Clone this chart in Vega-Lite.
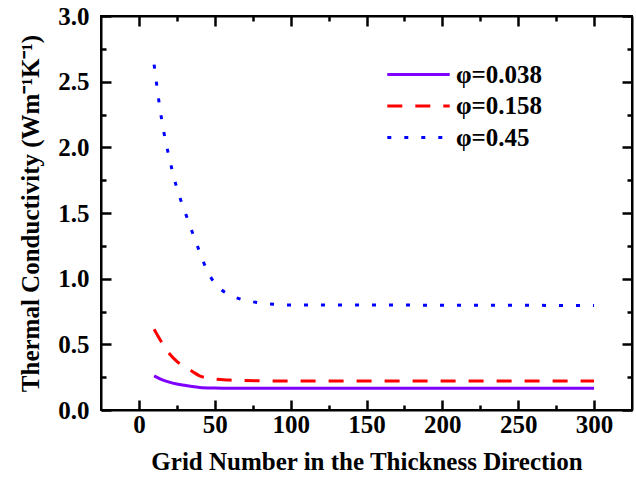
{
  "$schema": "https://vega.github.io/schema/vega-lite/v6.json",
  "width": 531,
  "height": 394,
  "autosize": "none",
  "padding": {"left": 101, "top": 16, "right": 4, "bottom": 71},
  "background": "white",
  "config": {
    "view": {"stroke": "#000000", "strokeWidth": 2},
    "font": "Liberation Serif"
  },
  "data": {
    "values": [
      {"n": 10, "k": 0.26, "phi": "φ=0.038"},
      {"n": 15, "k": 0.232, "phi": "φ=0.038"},
      {"n": 20, "k": 0.212, "phi": "φ=0.038"},
      {"n": 25, "k": 0.198, "phi": "φ=0.038"},
      {"n": 30, "k": 0.188, "phi": "φ=0.038"},
      {"n": 35, "k": 0.179, "phi": "φ=0.038"},
      {"n": 40, "k": 0.172, "phi": "φ=0.038"},
      {"n": 50, "k": 0.167, "phi": "φ=0.038"},
      {"n": 60, "k": 0.165, "phi": "φ=0.038"},
      {"n": 100, "k": 0.165, "phi": "φ=0.038"},
      {"n": 150, "k": 0.165, "phi": "φ=0.038"},
      {"n": 200, "k": 0.165, "phi": "φ=0.038"},
      {"n": 250, "k": 0.165, "phi": "φ=0.038"},
      {"n": 300, "k": 0.165, "phi": "φ=0.038"},
      {"n": 10, "k": 0.615, "phi": "φ=0.158"},
      {"n": 15, "k": 0.515, "phi": "φ=0.158"},
      {"n": 20, "k": 0.43, "phi": "φ=0.158"},
      {"n": 25, "k": 0.37, "phi": "φ=0.158"},
      {"n": 30, "k": 0.33, "phi": "φ=0.158"},
      {"n": 35, "k": 0.295, "phi": "φ=0.158"},
      {"n": 40, "k": 0.26, "phi": "φ=0.158"},
      {"n": 45, "k": 0.243, "phi": "φ=0.158"},
      {"n": 50, "k": 0.235, "phi": "φ=0.158"},
      {"n": 60, "k": 0.228, "phi": "φ=0.158"},
      {"n": 70, "k": 0.224, "phi": "φ=0.158"},
      {"n": 80, "k": 0.222, "phi": "φ=0.158"},
      {"n": 100, "k": 0.22, "phi": "φ=0.158"},
      {"n": 150, "k": 0.22, "phi": "φ=0.158"},
      {"n": 200, "k": 0.22, "phi": "φ=0.158"},
      {"n": 250, "k": 0.22, "phi": "φ=0.158"},
      {"n": 300, "k": 0.22, "phi": "φ=0.158"},
      {"n": 10, "k": 2.63, "phi": "φ=0.45"},
      {"n": 15, "k": 2.21, "phi": "φ=0.45"},
      {"n": 20, "k": 1.92, "phi": "φ=0.45"},
      {"n": 25, "k": 1.69, "phi": "φ=0.45"},
      {"n": 30, "k": 1.52, "phi": "φ=0.45"},
      {"n": 35, "k": 1.36, "phi": "φ=0.45"},
      {"n": 40, "k": 1.205, "phi": "φ=0.45"},
      {"n": 45, "k": 1.06, "phi": "φ=0.45"},
      {"n": 50, "k": 0.966, "phi": "φ=0.45"},
      {"n": 55, "k": 0.91, "phi": "φ=0.45"},
      {"n": 60, "k": 0.878, "phi": "φ=0.45"},
      {"n": 65, "k": 0.852, "phi": "φ=0.45"},
      {"n": 70, "k": 0.836, "phi": "φ=0.45"},
      {"n": 80, "k": 0.815, "phi": "φ=0.45"},
      {"n": 90, "k": 0.805, "phi": "φ=0.45"},
      {"n": 100, "k": 0.8, "phi": "φ=0.45"},
      {"n": 150, "k": 0.8, "phi": "φ=0.45"},
      {"n": 200, "k": 0.798, "phi": "φ=0.45"},
      {"n": 250, "k": 0.797, "phi": "φ=0.45"},
      {"n": 300, "k": 0.796, "phi": "φ=0.45"}
    ]
  },
  "layer": [
    {
      "transform": [{"filter": "datum.phi == 'φ=0.038'"}],
      "mark": {"type": "line", "strokeWidth": 3, "interpolate": "monotone"},
      "encoding": {
        "x": {
          "field": "n", "type": "quantitative",
          "scale": {"domain": [-25, 325], "nice": false, "zero": false},
          "axis": {
            "orient": "bottom",
            "zindex": 1,
            "gridOpacity": 0,
            "title": "Grid Number in the Thickness Direction",
            "titleFont": "Liberation Serif", "titleFontWeight": "bold", "titleFontSize": 25, "titleColor": "#000000",
            "labelFont": "Liberation Serif", "labelFontWeight": "bold", "labelFontSize": 25, "labelColor": "#000000",
            "domainColor": "#000000", "domainWidth": 2,
            "tickColor": "#000000", "tickWidth": 2.5,
            "values": [0, 25, 50, 75, 100, 125, 150, 175, 200, 225, 250, 275, 300],
            "labelExpr": "datum.value % 50 == 0 ? datum.label : ''",
            "tickSize": {"condition": {"test": "datum.value % 50 != 0", "value": -5}, "value": -10},
            "labelPadding": 12,
            "titlePadding": 12
          }
        },
        "y": {
          "field": "k", "type": "quantitative",
          "scale": {"domain": [0, 3], "nice": false},
          "axis": {
            "orient": "left",
            "zindex": 1,
            "gridOpacity": 0,
            "title": "Thermal Conductivity (Wm⁻¹K⁻¹)",
            "titleFont": "Liberation Serif", "titleFontWeight": "bold", "titleFontSize": 25, "titleColor": "#000000",
            "labelFont": "Liberation Serif", "labelFontWeight": "bold", "labelFontSize": 25, "labelColor": "#000000",
            "domainColor": "#000000", "domainWidth": 2,
            "tickColor": "#000000", "tickWidth": 2.5,
            "values": [0, 0.25, 0.5, 0.75, 1, 1.25, 1.5, 1.75, 2, 2.25, 2.5, 2.75, 3],
            "labelExpr": "abs(datum.value*2 - round(datum.value*2)) < 0.01 ? format(datum.value, '.1f') : ''",
            "tickSize": {"condition": {"test": "abs(datum.value*2 - round(datum.value*2)) > 0.01", "value": -5}, "value": -10},
            "labelPadding": 22,
            "titlePadding": 14
          }
        },
        "color": {
          "field": "phi", "type": "nominal",
          "scale": {"domain": ["φ=0.038", "φ=0.158", "φ=0.45"], "range": ["#8000ff", "#ff0000", "#0000ff"]},
          "legend": {
            "title": null, "orient": "none", "legendX": 305, "legendY": 46,
            "symbolType": "M-5.2,0H5.2", "symbolSize": 144, "symbolStrokeWidth": 3,
            "labelOffset": 25, "rowPadding": 5.5,
            "labelFont": "Liberation Serif", "labelFontWeight": "bold", "labelFontSize": 25, "labelColor": "#000000", "labelLimit": 300,
            "encode": {
              "symbols": {
                "update": {
                  "strokeDash": {"signal": "datum.value == 'φ=0.158' ? [15, 13] : datum.value == 'φ=0.45' ? [4, 13] : [1, 0]"}
                }
              }
            }
          }
        }
      }
    },
    {
      "transform": [{"filter": "datum.phi == 'φ=0.158'"}],
      "mark": {"type": "line", "strokeWidth": 3, "interpolate": "monotone", "color": "#ff0000", "strokeDash": [15, 13]},
      "encoding": {
        "x": {"field": "n", "type": "quantitative", "axis": null},
        "y": {"field": "k", "type": "quantitative", "axis": null}
      }
    },
    {
      "transform": [{"filter": "datum.phi == 'φ=0.45'"}],
      "mark": {"type": "line", "strokeWidth": 3, "interpolate": "monotone", "color": "#0000ff", "strokeDash": [4, 13]},
      "encoding": {
        "x": {"field": "n", "type": "quantitative", "axis": null},
        "y": {"field": "k", "type": "quantitative", "axis": null}
      }
    },
    {
      "mark": {"type": "line", "opacity": 0},
      "encoding": {
        "detail": {"field": "phi"},
        "x": {
          "field": "n", "type": "quantitative",
          "axis": {
            "orient": "top",
            "zindex": 1,
            "gridOpacity": 0,
            "title": null,
            "labels": false,
            "domainColor": "#000000", "domainWidth": 2,
            "tickColor": "#000000", "tickWidth": 2.5,
            "values": [0, 25, 50, 75, 100, 125, 150, 175, 200, 225, 250, 275, 300],
            "tickSize": {"condition": {"test": "datum.value % 50 != 0", "value": -5}, "value": -10}
          }
        },
        "y": {
          "field": "k", "type": "quantitative",
          "axis": {
            "orient": "right",
            "zindex": 1,
            "gridOpacity": 0,
            "title": null,
            "labels": false,
            "domainColor": "#000000", "domainWidth": 2,
            "tickColor": "#000000", "tickWidth": 2.5,
            "values": [0, 0.25, 0.5, 0.75, 1, 1.25, 1.5, 1.75, 2, 2.25, 2.5, 2.75, 3],
            "tickSize": {"condition": {"test": "abs(datum.value*2 - round(datum.value*2)) > 0.01", "value": -5}, "value": -10}
          }
        }
      }
    }
  ],
  "resolve": {"axis": {"x": "independent", "y": "independent"}}
}
